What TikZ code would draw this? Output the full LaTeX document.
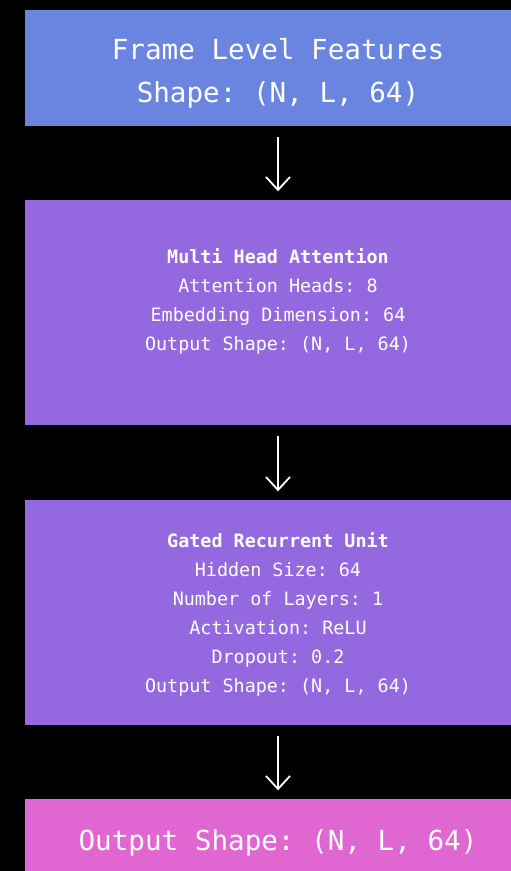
\documentclass[tikz,border=0pt]{standalone}
\usepackage{fontspec}
\setmonofont{DejaVu Sans Mono}
\usetikzlibrary{arrows.meta}
\definecolor{boxblue}{HTML}{6A85E0}
\definecolor{boxpurple}{HTML}{9469E0}
\definecolor{boxpink}{HTML}{E066D2}
\begin{document}
\begin{tikzpicture}[x=1bp,y=-1bp,
  box/.style={rectangle, draw=none, inner sep=0pt, minimum width=506bp, anchor=center},
  bigtxt/.style={text=white, align=center, inner sep=0pt, font=\ttfamily\fontsize{27.6bp}{43bp}\selectfont},
  smalltxt/.style={text=white, align=center, inner sep=0pt, font=\ttfamily\fontsize{18.4bp}{29bp}\selectfont},
  flow/.style={draw=white, line width=1.8bp, -{Straight Barb[length=13bp,width=24bp,line width=1.8bp]}, shorten <=10.5bp, shorten >=8.5bp}]
\fill[black] (0,0) rectangle (511,871);
\useasboundingbox (0,0) rectangle (511,871);
\node[box, fill=boxblue, minimum height=116bp] (fl) at (278,68) {};
\node[bigtxt] (fltxt) at (278,73.5) {Frame Level Features\\Shape: (N, L, 64)};
\node[box, fill=boxpurple, minimum height=225bp] (mha) at (278,312.5) {};
\node[smalltxt] (mhatxt) at (278,301.5) {\textbf{Multi Head Attention}\\Attention Heads: 8\\Embedding Dimension: 64\\Output Shape: (N, L, 64)};
\node[box, fill=boxpurple, minimum height=225bp] (gru) at (278,612.5) {};
\node[smalltxt] (grutxt) at (278,614.5) {\textbf{Gated Recurrent Unit}\\Hidden Size: 64\\Number of Layers: 1\\Activation: ReLU\\Dropout: 0.2\\Output Shape: (N, L, 64)};
\node[box, fill=boxpink, minimum height=82bp] (out) at (278,840) {};
\node[bigtxt] (outtxt) at (278,842.5) {Output Shape: (N, L, 64)};
\draw[flow] (fl) -- (mha);
\draw[flow] (mha) -- (gru);
\draw[flow] (gru) -- (out);
\end{tikzpicture}
\end{document}
